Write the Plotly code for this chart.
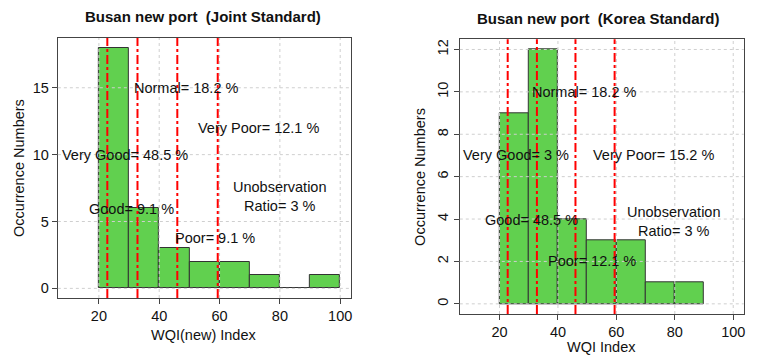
import plotly.graph_objects as go

# ---- data ----
bin_width = 10
joint_bins = [20, 30, 40, 50, 60, 70, 80, 90]
joint_counts = [18, 6, 3, 2, 2, 1, 0, 1]
korea_bins = [20, 30, 40, 50, 60, 70, 80]
korea_counts = [9, 12, 4, 3, 3, 1, 1]
class_bounds = [22.8, 32.8, 46.0, 59.4]

joint_labels = ["Normal= 18.2 %", "Very Poor= 12.1 %", "Very Good= 48.5 %",
                "Good= 9.1 %", "Poor= 9.1 %", "Unobservation<br>Ratio= 3 %"]
korea_labels = ["Normal= 18.2 %", "Very Good= 3 %", "Very Poor= 15.2 %",
                "Good= 48.5 %", "Poor= 12.1 %", "Unobservation<br>Ratio= 3 %"]

titles = ["Busan new port  (Joint Standard)", "Busan new port  (Korea Standard)"]
xtitles = ["WQI(new) Index", "WQI Index"]
ytitle = "Occurrence Numbers"
x_ticks = [20, 40, 60, 80, 100]
joint_yticks = [0, 5, 10, 15]
korea_yticks = [0, 2, 4, 6, 8, 10, 12]

W, H = 761, 356
FONT = "Liberation Sans, Arial, sans-serif"
GREEN = "#61D04F"

fig = go.Figure()
for bins, counts, xa, ya in ((joint_bins, joint_counts, "x", "y"),
                             (korea_bins, korea_counts, "x2", "y2")):
    centers = [b + bin_width / 2 for b in bins]
    fig.add_trace(go.Bar(x=centers, y=counts, width=[bin_width] * len(centers),
                         marker=dict(color=GREEN, line=dict(color="#333333", width=1)),
                         xaxis=xa, yaxis=ya, showlegend=False, hoverinfo="skip"))

def px_x(p):
    return p / W

def px_y(p):
    return 1 - p / H

axis_common = dict(showline=True, mirror=True, linecolor="#444444", linewidth=1,
                   ticks="outside", ticklen=5, tickcolor="#444444",
                   showgrid=False, zeroline=False,
                   tickfont=dict(family=FONT, size=14.5, color="#111111"))

fig.update_layout(
    width=W, height=H, margin=dict(l=0, r=0, t=0, b=0),
    paper_bgcolor="white", plot_bgcolor="white", bargap=0,
    xaxis=dict(domain=[px_x(58), px_x(352)], range=[6.4, 103.6], tickvals=x_ticks,
               anchor="y", **axis_common),
    yaxis=dict(domain=[px_y(298), px_y(38)], range=[-0.72, 18.72], tickvals=joint_yticks,
               anchor="x", **axis_common),
    xaxis2=dict(domain=[px_x(461), px_x(745.7)], range=[6.4, 103.6], tickvals=x_ticks,
                anchor="y2", **axis_common),
    yaxis2=dict(domain=[px_y(314), px_y(39.3)], range=[-0.48, 12.48], tickvals=korea_yticks,
                tickangle=-90, anchor="x2", **axis_common),
)

# dotted grid drawn on top of the bars (as R's grid() does)
grid_line = dict(color="#cfcfcf", width=1, dash="dot")
for xr, yr, yt in (("x", "y", joint_yticks), ("x2", "y2", korea_yticks)):
    for t in x_ticks:
        fig.add_shape(type="line", xref=xr, yref=yr + " domain", x0=t, x1=t, y0=0, y1=1,
                      line=grid_line, layer="above")
    for t in yt:
        fig.add_shape(type="line", xref=xr + " domain", yref=yr, x0=0, x1=1, y0=t, y1=t,
                      line=grid_line, layer="above")

# red class boundary lines
for xr, yr in (("x", "y"), ("x2", "y2")):
    for b in class_bounds:
        fig.add_shape(type="line", xref=xr, yref=yr + " domain", x0=b, x1=b, y0=0, y1=1,
                      line=dict(color="#FF0000", width=2, dash="dashdot"), layer="above")

tfont = dict(family=FONT, size=14.5, color="#111111")
joint_pos = [(49, 15), (73, 12), (28.8, 10), (30.8, 5.9), (58.5, 3.8), (80, 6.9)]
korea_pos = [(48.8, 10), (25.6, 7), (72.8, 7), (30.8, 3.95), (51.6, 2), (79.8, 3.9)]
for lab, (x, y) in zip(joint_labels, joint_pos):
    fig.add_annotation(x=x, y=y, xref="x", yref="y", text=lab, showarrow=False, font=tfont,
                       xanchor="center", yanchor="middle")
for lab, (x, y) in zip(korea_labels, korea_pos):
    fig.add_annotation(x=x, y=y, xref="x2", yref="y2", text=lab, showarrow=False, font=tfont,
                       xanchor="center", yanchor="middle")

# titles
for t, cx, cy in zip(titles, [204, 600], [17, 19]):
    fig.add_annotation(x=px_x(cx), y=px_y(cy), xref="paper", yref="paper", text="<b>%s</b>" % t,
                       showarrow=False, font=dict(family=FONT, size=15, color="#111111"),
                       xanchor="center", yanchor="middle")
for t, cx, cy in zip(xtitles, [205, 603], [335, 347]):
    fig.add_annotation(x=px_x(cx), y=px_y(cy), xref="paper", yref="paper", text=t,
                       showarrow=False, font=tfont, xanchor="center", yanchor="middle")
for cx, cy in [(19, 168), (421, 177)]:
    fig.add_annotation(x=px_x(cx), y=px_y(cy), xref="paper", yref="paper", text=ytitle,
                       textangle=-90, showarrow=False, font=tfont,
                       xanchor="center", yanchor="middle")

fig.write_html("out.html", config={"displayModeBar": False},
               post_script="document.body.style.margin='0';")
